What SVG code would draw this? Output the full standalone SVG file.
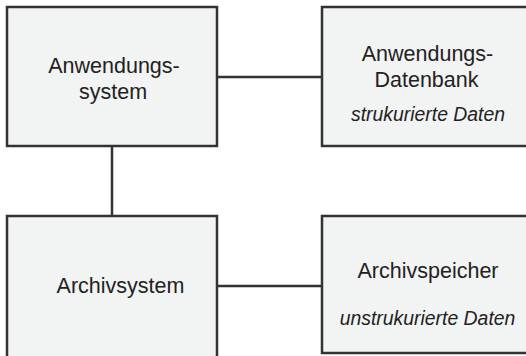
<svg xmlns="http://www.w3.org/2000/svg" width="526" height="356" viewBox="0 0 526 356">
<style>
.box{fill:#f2f3f3;stroke:#333;stroke-width:2.5}
.t{font-family:"Liberation Sans",Arial,sans-serif;font-size:21.5px;fill:#222;text-anchor:middle}
.i{font-family:"Liberation Sans",Arial,sans-serif;font-size:19.4px;font-style:italic;fill:#222;text-anchor:middle}
.c{stroke:#333;stroke-width:2.5;fill:none}
</style>
<rect width="526" height="356" fill="#fff"/>
<g id="connectors">
<line class="c" x1="217" y1="77" x2="322" y2="77"/>
<line class="c" x1="217" y1="286" x2="322" y2="286"/>
<line class="c" x1="112" y1="146" x2="112" y2="216"/>
</g>
<g id="anwendungssystem">
<rect class="box" x="7" y="7" width="210" height="139"/>
<text class="t" x="114" y="73">Anwendungs-</text>
<text class="t" x="113" y="99">system</text>
</g>
<g id="datenbank">
<rect class="box" x="322" y="7" width="212" height="139"/>
<text class="t" x="427.5" y="61">Anwendungs-</text>
<text class="t" x="426.5" y="87">Datenbank</text>
<text class="i" x="428" y="121">strukurierte Daten</text>
</g>
<g id="archivsystem">
<rect class="box" x="7" y="216" width="210" height="150"/>
<text class="t" x="120.5" y="293">Archivsystem</text>
</g>
<g id="archivspeicher">
<rect class="box" x="322" y="216" width="212" height="137"/>
<text class="t" x="428" y="278">Archivspeicher</text>
<text class="i" x="427.5" y="325">unstrukurierte Daten</text>
</g>
</svg>
